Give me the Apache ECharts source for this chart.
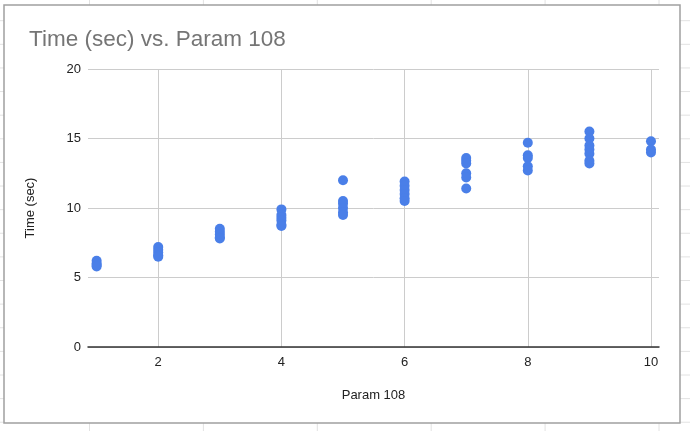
<!DOCTYPE html>
<html>
<head>
<meta charset="utf-8">
<script src="https://cdn.jsdelivr.net/npm/echarts@6/dist/echarts.min.js"></script>
<style>
html,body{margin:0;padding:0;background:#fff;}
#c{width:690px;height:431px;}
</style>
</head>
<body>
<div id="c"></div>
<script>
// Data
const param = [1, 2, 3, 4, 5, 6, 7, 8, 9, 10];
const times = [
  [6.2, 6.0, 5.9, 5.8],
  [7.2, 7.0, 6.8, 6.6, 6.5],
  [8.5, 8.3, 8.1, 7.9, 7.8],
  [9.9, 9.5, 9.3, 9.1, 8.8, 8.7],
  [12.0, 10.5, 10.3, 10.0, 9.7, 9.5],
  [11.9, 11.6, 11.3, 11.0, 10.7, 10.5],
  [13.6, 13.4, 13.2, 12.5, 12.2, 11.4],
  [14.7, 13.8, 13.6, 13.0, 12.7],
  [15.5, 15.0, 14.5, 14.2, 13.9, 13.4, 13.2],
  [14.8, 14.2, 14.0]
];
const xTicks = [2, 4, 6, 8, 10];
const yTicks = [0, 5, 10, 15, 20];
const titleText = 'Time (sec) vs. Param 108';
const xName = 'Param 108';
const yName = 'Time (sec)';

const points = [];
param.forEach((p, i) => times[i].forEach(t => points.push([p, t])));

// decorative spreadsheet background
const bg = [];
for (let k = 0; k < 6; k++) {
  const x = 89.5 + k * 113.9;
  bg.push({type: 'line', z: -20, silent: true, shape: {x1: x, y1: 0, x2: x, y2: 431}, style: {stroke: '#e2e2e2', lineWidth: 1}});
}
for (let k = 0; k < 18; k++) {
  const y = 20.7 + k * 23.62;
  bg.push({type: 'line', z: -20, silent: true, shape: {x1: 0, y1: y, x2: 690, y2: y}, style: {stroke: '#e2e2e2', lineWidth: 1}});
}
bg.push({type: 'rect', z: -10, silent: true, shape: {x: 4, y: 5, width: 676, height: 418}, style: {fill: '#fff', stroke: '#a0a0a0', lineWidth: 1.5}});

const chart = echarts.init(document.getElementById('c'), null, {renderer: 'canvas'});
chart.setOption({
  animation: false,
  backgroundColor: '#fff',
  graphic: bg,
  title: {
    text: titleText, left: 24, top: 23,
    textStyle: {color: '#757575', fontSize: 22.5, fontWeight: 'normal', fontFamily: 'Liberation Sans, Arial, sans-serif'}
  },
  grid: {left: 88, right: 31, top: 69, bottom: 84},
  xAxis: {
    type: 'value', min: 0.86, max: 10.13,
    name: xName, nameLocation: 'middle', nameGap: 42,
    nameTextStyle: {color: '#222', fontSize: 13, fontFamily: 'Liberation Sans, Arial, sans-serif'},
    axisLine: {show: true, lineStyle: {color: '#333', width: 1.5}},
    axisTick: {show: false, customValues: xTicks},
    axisLabel: {customValues: xTicks, color: '#222', fontSize: 13, margin: 9, fontFamily: 'Liberation Sans, Arial, sans-serif'},
    splitLine: {show: true, lineStyle: {color: '#cccccc', width: 1}}
  },
  yAxis: {
    type: 'value', min: yTicks[0], max: yTicks[yTicks.length - 1], interval: 5,
    name: yName, nameLocation: 'middle', nameGap: 51,
    nameTextStyle: {color: '#222', fontSize: 13, fontFamily: 'Liberation Sans, Arial, sans-serif'},
    axisLine: {show: false},
    axisTick: {show: false},
    axisLabel: {color: '#222', fontSize: 13, margin: 7, fontFamily: 'Liberation Sans, Arial, sans-serif'},
    splitLine: {show: true, lineStyle: {color: '#cccccc', width: 1}}
  },
  series: [{
    type: 'scatter', data: points, symbolSize: 10,
    itemStyle: {color: '#4a7fe8', opacity: 1}
  }]
});
</script>
</body>
</html>
